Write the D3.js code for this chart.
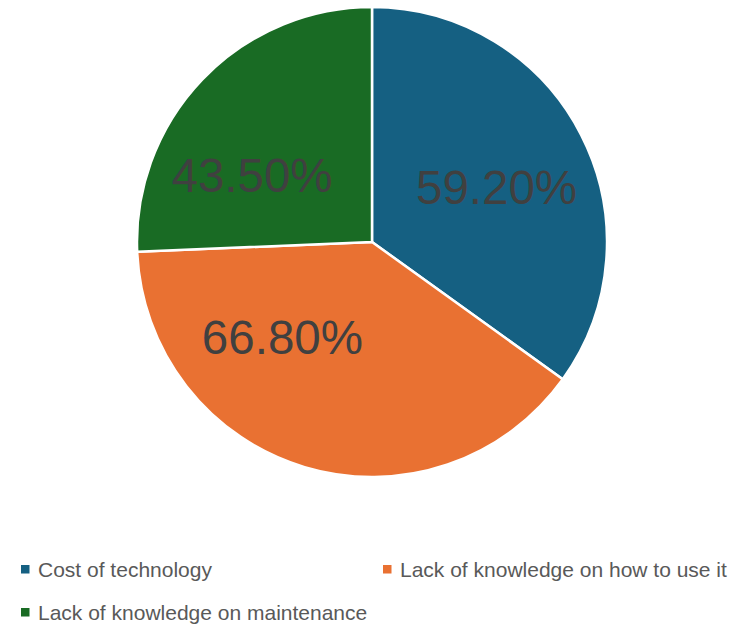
<!DOCTYPE html>
<html>
<head>
<meta charset="utf-8">
<script src="https://cdn.jsdelivr.net/npm/d3@7/dist/d3.min.js"></script>
<style>
  html, body { margin: 0; padding: 0; background: #ffffff; }
  svg { display: block; }
</style>
</head>
<body>
<svg id="chart" width="738" height="626"></svg>
<script>
// Barriers to technology adoption (share of respondents)
const categories = ["Cost of technology", "Lack of knowledge on how to use it", "Lack of knowledge on maintenance"];
const values = [59.2, 66.8, 43.5];
const valueLabels = ["59.20%", "66.80%", "43.50%"];
const colors = ["#156082", "#E97132", "#196B24"];

// Label placement inside each slice: fraction along the slice's angle span, fraction of radius
const labelAngleFrac = [0.525, 0.689, 0.344];
const labelRadiusFrac = [0.58, 0.554, 0.586];

const svg = d3.select("#chart");
const cx = 372, cy = 242, radius = 235;

const pie = d3.pie().sort(null).value(d => d)(values);
const arc = d3.arc().innerRadius(0).outerRadius(radius);

const g = svg.append("g").attr("transform", `translate(${cx},${cy})`);

g.selectAll("path.slice")
  .data(pie)
  .join("path")
  .attr("class", "slice")
  .attr("d", arc)
  .attr("fill", (d, i) => colors[i])
  .attr("stroke", "#ffffff")
  .attr("stroke-width", 2.5)
  .attr("stroke-linejoin", "round");

// Value labels
g.selectAll("text.value")
  .data(pie)
  .join("text")
  .attr("class", "value")
  .attr("x", (d, i) => {
    const a = d.startAngle + (d.endAngle - d.startAngle) * labelAngleFrac[i];
    return Math.sin(a) * radius * labelRadiusFrac[i];
  })
  .attr("y", (d, i) => {
    const a = d.startAngle + (d.endAngle - d.startAngle) * labelAngleFrac[i];
    return -Math.cos(a) * radius * labelRadiusFrac[i];
  })
  .attr("dy", "0.36em")
  .attr("text-anchor", "middle")
  .attr("font-family", "'Liberation Sans', Arial, sans-serif")
  .attr("font-size", 47.5)
  .attr("fill", "#404040")
  .text((d, i) => valueLabels[i]);

// Legend
const legendItems = [
  { x: 21, y: 577 },
  { x: 383, y: 577 },
  { x: 21, y: 620 }
];
const legend = svg.append("g")
  .selectAll("g")
  .data(categories)
  .join("g")
  .attr("transform", (d, i) => `translate(${legendItems[i].x},${legendItems[i].y})`);

legend.append("rect")
  .attr("x", 0)
  .attr("y", -12)
  .attr("width", 8.5)
  .attr("height", 8.5)
  .attr("fill", (d, i) => colors[i]);

legend.append("text")
  .attr("x", 17)
  .attr("y", 0)
  .attr("font-family", "'Liberation Sans', Arial, sans-serif")
  .attr("font-size", 21)
  .attr("fill", "#595959")
  .text(d => d);
</script>
</body>
</html>
